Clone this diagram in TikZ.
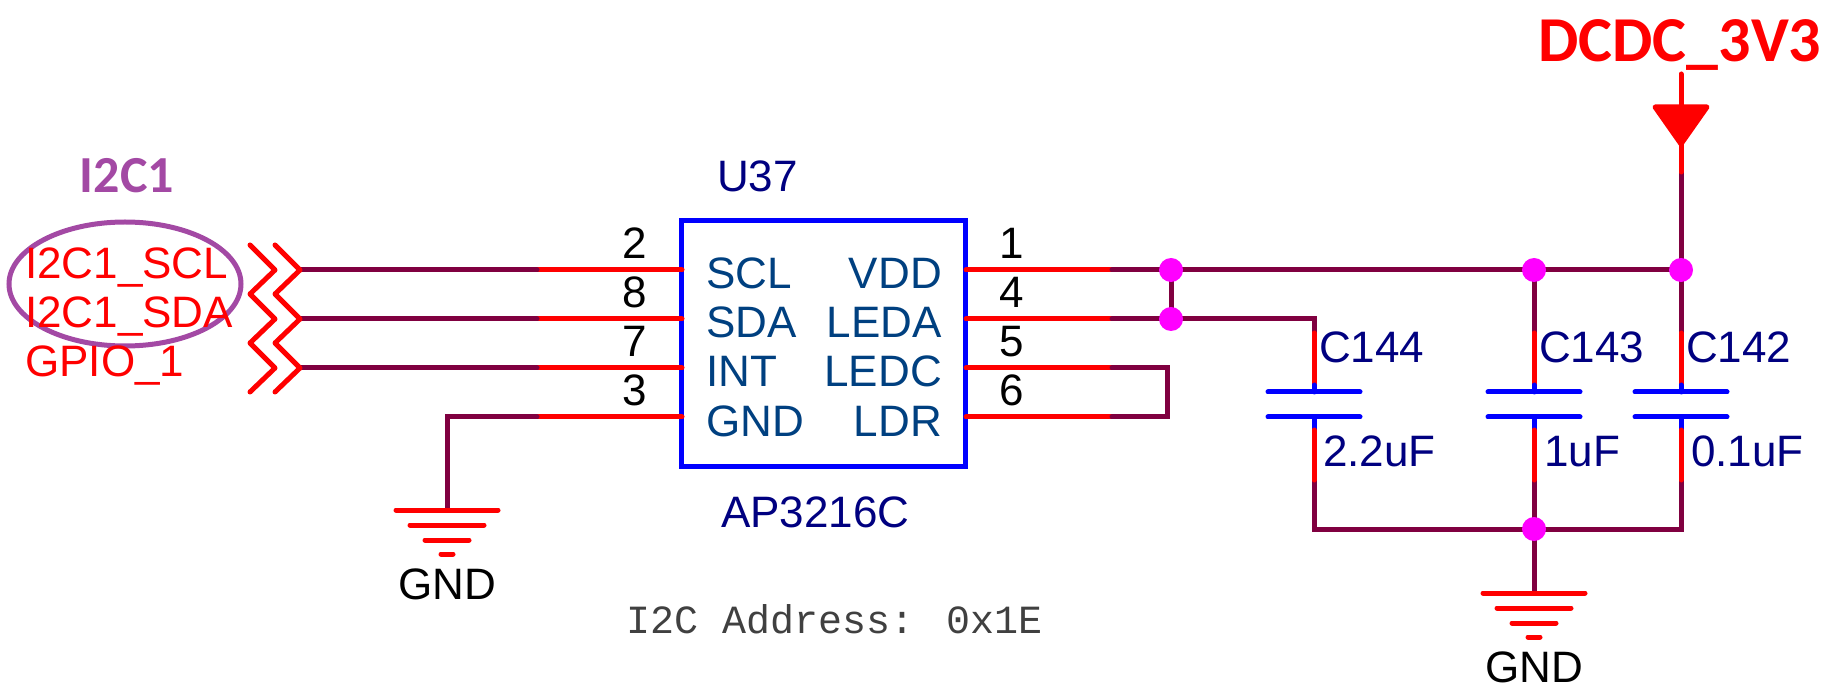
\documentclass[tikz,border=0pt]{standalone}
\usepackage{fontspec}
\setmainfont{Liberation Sans}
\newfontfamily\carl{Carlito}
\newfontfamily\cour{Liberation Mono}
\definecolor{wirec}{HTML}{800040}
\definecolor{sigred}{HTML}{FF0000}
\definecolor{pinblue}{HTML}{0000FF}
\definecolor{dotc}{HTML}{FF00FF}
\definecolor{navyc}{HTML}{000080}
\definecolor{pinname}{HTML}{004080}
\definecolor{purp}{HTML}{A349A4}
\definecolor{addr}{HTML}{404040}
\tikzset{
 wire/.style={draw=wirec,line width=5pt,line cap=round,line join=miter},
 rpin/.style={draw=sigred,line width=5pt,line cap=round,line join=round},
 bpin/.style={draw=pinblue,line width=5pt,line cap=round},
 dotn/.style={circle,fill=dotc,draw=none,inner sep=0pt,minimum size=24pt},
 lbl/.style={inner sep=0pt,font=\fontsize{44}{44}\selectfont},
 lw/.style={lbl,anchor=base west},
 le/.style={lbl,anchor=base east},
 lc/.style={lbl,anchor=base},
}
\begin{document}
\begin{tikzpicture}[x=1pt,y=-1pt]
\useasboundingbox (0,0) rectangle (1834,692);
% chip
\node[draw=pinblue,line width=5pt,minimum width=284pt,minimum height=246pt,inner sep=0pt,anchor=north west] (chip) at (679,218) {};
% left side coordinates
\foreach \n/\y in {a/270,b/319,c/368,d/417}{
  \coordinate (L\n) at (682,\y);
  \coordinate (M\n) at (537,\y);
  \coordinate (R\n) at (966,\y);
  \coordinate (N\n) at (1112,\y);
  \draw[rpin] (L\n) -- (M\n);
  \draw[rpin] (R\n) -- (N\n);
}
\foreach \n/\y in {a/270,b/319,c/368}{
  \coordinate (T\n) at (300,\y);
  \draw[wire] (T\n) -- (M\n);
}
% offpage chevrons
\foreach \x in {250,275}{
\draw[rpin] (\x,245) -- ++(25,25) -- ++(-25,24) -- ++(25,25) -- ++(-25,24) -- ++(25,25) -- ++(-25,24);
}
% ground left
\coordinate (g1) at (447,510);
\draw[wire] (Md) -- (g1 |- Md) -- (g1);
% junctions
\coordinate (j1) at (1171,270);
\coordinate (j2) at (1171,319);
\coordinate (j3) at (1534,270);
\coordinate (j4) at (1681,270);
\coordinate (j5) at (1534,529);
\coordinate (c144) at (1314,0);
\draw[wire] (Na) -- (j4);
\draw[wire] (j1) -- (j2);
\draw[wire] (Nb) -- (c144 |- Nb) -- (1314,333);
\draw[wire] (Nc) -- (1167,368) -- (1167,417) -- (Nd);
\draw[wire] (j3) -- (1534,333);
\draw[wire] (j4) -- (1681,333);
\draw[wire] (1681,172) -- (j4);
\draw[wire] (1314,480) -- (1314,529) -- (1681,529) -- (1681,480);
\draw[wire] (1534,480) -- (j5) -- (1534,593);
% capacitors
\foreach \x in {1314,1534,1681}{
  \draw[rpin] (\x,333) -- (\x,385);
  \draw[bpin] (\x,385) -- (\x,392);
  \draw[bpin] (\x-46,392) -- (\x+46,392);
  \draw[bpin] (\x-46,417) -- (\x+46,417);
  \draw[bpin] (\x,417) -- (\x,430);
  \draw[rpin] (\x,430) -- (\x,480);
}
% grounds
\foreach \cx/\cy in {447/510,1534/593}{
  \draw[rpin] (\cx-51,\cy) -- (\cx+51,\cy);
  \draw[rpin] (\cx-37,\cy+15) -- (\cx+37,\cy+15);
  \draw[rpin] (\cx-22,\cy+30) -- (\cx+22,\cy+30);
  \draw[rpin] (\cx-6,\cy+44) -- (\cx+6,\cy+44);
}
% supply arrow
\draw[rpin] (1681,74) -- (1681,107);
\draw[rpin,fill=sigred] (1655,107) -- (1707,107) -- (1681,144) -- cycle;
\draw[rpin] (1681,144) -- (1681,172);
% dots
\node[dotn] (d1) at (j1) {};
\node[dotn] (d2) at (j2) {};
\node[dotn] (d3) at (j3) {};
\node[dotn] (d4) at (j4) {};
\node[dotn] (d5) at (j5) {};
% ellipse
\draw[purp,line width=5pt] (125,284) ellipse [x radius=116,y radius=62];
% labels
\node[lw,text=sigred] (s1) at (25,279) {I2C1\_SCL};
\node[lw,text=sigred] (s2) at (25,328) {I2C1\_SDA};
\node[lw,text=sigred] (s3) at (25,377) {GPIO\_1};
\node[inner sep=0pt,anchor=base,text=purp,font=\carl\bfseries\fontsize{52}{52}\selectfont] (bus) at (127,193) {I2C1};
\node[inner sep=0pt,anchor=base,text=sigred,font=\carl\bfseries\fontsize{64}{64}\selectfont] (pwr) at (1680,62) {DCDC\_3V3};
\foreach \t/\x/\y/\nm in {2/635/259/p2,8/635/308/p8,7/635/357/p7,3/635/406/p3,1/1012/259/p1,4/1012/308/p4,5/1012/357/p5,6/1012/406/p6}{
  \node[lc,text=black] (\nm) at (\x,\y) {\t};
}
\node[lw,text=pinname] (n1) at (706,289) {SCL};
\node[lw,text=pinname] (n2) at (706,338) {SDA};
\node[lw,text=pinname] (n3) at (706,387) {INT};
\node[lw,text=pinname] (n4) at (706,436) {GND};
\node[le,text=pinname] (n5) at (942,289) {VDD};
\node[le,text=pinname] (n6) at (942,338) {LEDA};
\node[le,text=pinname] (n7) at (942,387) {LEDC};
\node[le,text=pinname] (n8) at (942,436) {LDR};
\node[lw,text=navyc] (u37) at (717,192) {U37};
\node[lw,text=navyc] (part) at (721,527) {AP3216C};
\node[lw,text=navyc] (v1) at (1319,363) {C144};
\node[lw,text=navyc] (v2) at (1539,363) {C143};
\node[lw,text=navyc] (v3) at (1686,363) {C142};
\node[lw,text=navyc] (w1) at (1323,466) {2.2uF};
\node[lw,text=navyc] (w2) at (1544,466) {1uF};
\node[lw,text=navyc] (w3) at (1691,466) {0.1uF};
\node[lc,text=black] (g1t) at (447,599) {GND};
\node[lc,text=black] (g2t) at (1534,682) {GND};
\node[inner sep=0pt,anchor=base west,text=addr,font=\cour\fontsize{40}{40}\selectfont] (ad) at (626,633) {I2C Address: 0x1E};
\end{tikzpicture}
\end{document}
